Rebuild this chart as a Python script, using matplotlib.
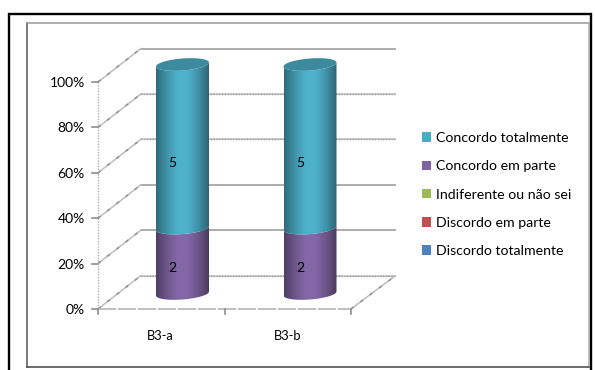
import numpy as np
import matplotlib
matplotlib.use("Agg")
import matplotlib.pyplot as plt
from matplotlib.colors import LinearSegmentedColormap
from matplotlib.patches import Patch, PathPatch
from matplotlib.path import Path

plt.rcParams["font.family"] = ["Lato", "DejaVu Sans"]

categories = ["B3-a", "B3-b"]
series_names = ["Discordo totalmente", "Discordo em parte", "Indiferente ou não sei",
                "Concordo em parte", "Concordo totalmente"]
series_values = [[0, 0], [0, 0], [0, 0], [2, 2], [5, 5]]
series_colors = ["#4F81BD", "#C0504D", "#9BBB59", "#8064A2", "#4BACC6"]
percent_ticks = [0, 20, 40, 60, 80, 100]

# pseudo 3D box, in figure pixels
FRONT_LEFT, FRONT_RIGHT = 98, 351
FRONT_BASE, FRONT_TOP = 309, 82
DEPTH_X, DEPTH_Y = 44, -33
CYL_BASE, CYL_TOP = 293.5, 64.5
LABEL_BASE, LABEL_TOP = 298, 88
CYL_WIDTH = 53
CYL_CENTERS = [182.5, 310]
AXIS_GREY = "#A6A6A6"


def front_y(pct):
    return FRONT_BASE + (FRONT_TOP - FRONT_BASE) * pct / 100


def cyl_y(pct):
    return CYL_BASE + (CYL_TOP - CYL_BASE) * pct / 100


def label_y(pct):
    return LABEL_BASE + (LABEL_TOP - LABEL_BASE) * pct / 100


def arc(cx, cy, t):
    # slightly tilted ellipse, the right side sits higher
    a = CYL_WIDTH / 2
    return cx + a * np.cos(t), cy + 6 * np.sin(t) - 2 * np.cos(t)


def draw_diagonal(ax, x0, y0, x1, y1):
    ax.plot([x0, x1], [y0, y1], color="#BDBDBD", lw=1.1, zorder=1)
    ax.plot([x0, x1], [y0, y1], color="#959595", lw=1.2, ls=(0, (2, 5)), zorder=1)


def draw_box(ax):
    back_left = FRONT_LEFT + DEPTH_X - 1
    back_right = FRONT_RIGHT + DEPTH_X
    solid = {100, 40, 20}
    for pct in percent_ticks:
        y = front_y(pct)
        back_y = y + DEPTH_Y - 0.5
        if pct in solid:
            ax.plot([back_left, back_right], [back_y, back_y], color=AXIS_GREY, lw=1.3, zorder=1)
        else:
            ax.plot([back_left, back_right], [back_y, back_y], color="#C4C4C4", lw=1.2, zorder=1)
            ax.plot([back_left, back_right], [back_y, back_y], color="#8F8F8F", lw=1.0,
                    ls=(0, (0.8, 1.2)), zorder=1)
        draw_diagonal(ax, FRONT_LEFT, y, back_left, back_y)
        ax.plot([FRONT_LEFT - 6, FRONT_LEFT], [y, y], color="#8C8C8C", lw=1.2, zorder=1)
        ax.text(FRONT_LEFT - 13, y + 1, f"{pct}%", ha="right", va="center", fontsize=10, color="black")
    ax.plot([FRONT_LEFT, FRONT_LEFT], [FRONT_TOP, FRONT_BASE], color="#B0B0B0", lw=1,
            ls=(0, (1, 1)), zorder=1)
    ax.plot([FRONT_LEFT, FRONT_RIGHT], [FRONT_BASE, FRONT_BASE], color="#B5B5B5", lw=1.2,
            ls=(0, (11, 1)), zorder=1)
    draw_diagonal(ax, FRONT_RIGHT, FRONT_BASE, back_right, FRONT_BASE + DEPTH_Y)
    for x in [FRONT_LEFT, (FRONT_LEFT + FRONT_RIGHT) / 2, FRONT_RIGHT]:
        ax.plot([x, x], [FRONT_BASE, FRONT_BASE + 5], color="#8C8C8C", lw=1.2, zorder=1)


def shaded(color):
    base = np.array(matplotlib.colors.to_rgb(color))
    dark = base * 0.62
    stops = [dark, base * 0.85, base * 1.03, base * 1.03, base * 0.85, dark * 0.95]
    return LinearSegmentedColormap.from_list("side", stops)


def draw_segment(ax, cx, start, stop, color, z):
    # cylinder side: bottom arc forward, top arc back along its front edge
    t = np.linspace(np.pi, 0, 60)
    xb, yb = arc(cx, cyl_y(start), t)
    xt, yt = arc(cx, cyl_y(stop), t[::-1])
    verts = np.vstack([np.c_[xb, yb], np.c_[xt, yt], [[xb[0], yb[0]]]])
    codes = [Path.MOVETO] + [Path.LINETO] * (len(verts) - 2) + [Path.CLOSEPOLY]
    clip = PathPatch(Path(verts, codes), transform=ax.transData, fc="none", ec="none")
    ax.add_patch(clip)
    grad = np.linspace(0, 1, 200)[None, :]
    im = ax.imshow(grad, cmap=shaded(color), aspect="auto", zorder=z, vmin=0, vmax=1,
                   extent=[cx - CYL_WIDTH / 2, cx + CYL_WIDTH / 2, cyl_y(start) + 8, cyl_y(stop) - 8])
    im.set_clip_path(clip)


def draw_bars(ax):
    for col, cx in enumerate(CYL_CENTERS):
        total = sum(vals[col] for vals in series_values)
        running = 0
        top_color = None
        for vals, color in zip(series_values, series_colors):
            if vals[col] == 0:
                continue
            start = 100 * running / total
            running += vals[col]
            stop = 100 * running / total
            draw_segment(ax, cx, start, stop, color, 3 + running)
            ax.text(cx - 10, label_y((start + stop) / 2), str(vals[col]), ha="center",
                    va="center", fontsize=10, color="black", zorder=20)
            top_color = color
        t = np.linspace(0, 2 * np.pi, 90)
        x, y = arc(cx, cyl_y(100), t)
        cap = np.array(matplotlib.colors.to_rgb(top_color)) * 0.8
        ax.fill(x, y, color=cap, lw=0, zorder=15)


def main():
    fig = plt.figure(figsize=(5.95, 3.7), dpi=100)
    ax = fig.add_axes([0, 0, 1, 1])

    # page border, open at the bottom
    ax.plot([9, 9, 590.5, 590.5], [370, 14, 14, 370], color="black", lw=1.7, zorder=0,
            solid_joinstyle="miter")
    # chart area border, each side has its own shade
    ax.plot([27, 27], [22.5, 367], color="#555555", lw=1.1, zorder=0)
    ax.plot([27, 589], [22.5, 22.5], color="#999999", lw=1.1, zorder=0)
    ax.plot([589, 589], [22.5, 367], color="#A8A8A8", lw=1.1, zorder=0)
    ax.plot([27, 589], [367, 367], color="#444444", lw=1.1, zorder=0)

    draw_box(ax)
    draw_bars(ax)

    for cx, name in zip(CYL_CENTERS, categories):
        ax.text(cx - 22.5, 336, name, ha="center", va="center", fontsize=9.3, color="black")

    handles = [Patch(fc=c, ec="none") for c in series_colors[::-1]]
    ax.legend(handles, series_names[::-1], loc="upper left", bbox_to_anchor=(422 / 595, 1 - 132 / 370),
              frameon=False, fontsize=10.15, handlelength=0.65, handleheight=0.65,
              handletextpad=0.35, labelspacing=1.155, borderpad=0, borderaxespad=0)

    ax.set_xlim(0, 595)
    ax.set_ylim(370, 0)
    ax.axis("off")
    fig.savefig("out.png", dpi=100)
    plt.close(fig)


if __name__ == "__main__":
    main()
